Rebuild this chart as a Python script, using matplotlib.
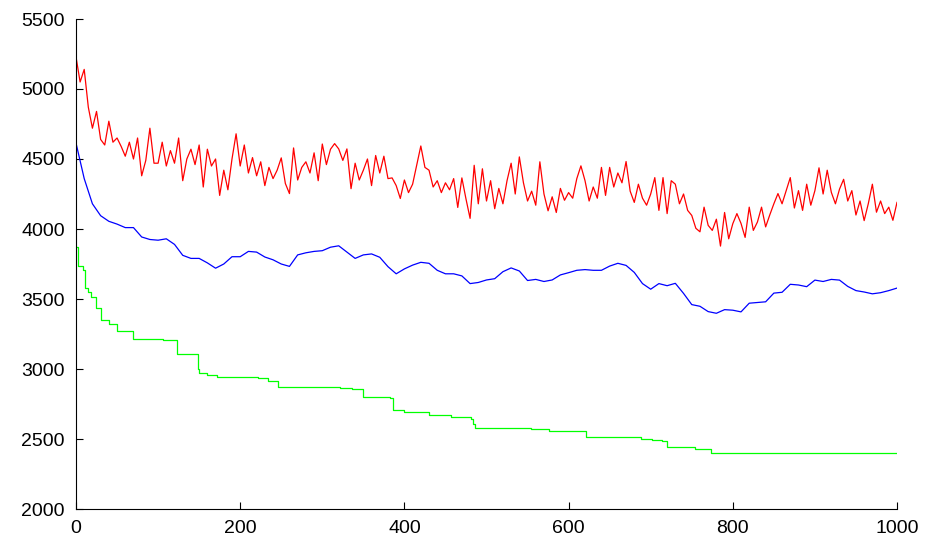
import numpy as np
import matplotlib
matplotlib.use('Agg')
import matplotlib.pyplot as plt

# red: current cost, sampled every 5 iterations
red = [5230, 5050, 5140, 4870, 4720, 4840, 4640, 4600, 4770, 4620,
       4650, 4590, 4520, 4620, 4500, 4650, 4380, 4490, 4720, 4470,
       4470, 4620, 4450, 4560, 4470, 4650, 4345, 4500, 4570, 4460,
       4600, 4300, 4570, 4450, 4500, 4240, 4420, 4280, 4500, 4680,
       4450, 4600, 4400, 4510, 4380, 4480, 4310, 4440, 4360, 4420,
       4508, 4325, 4253, 4579, 4350, 4440, 4480, 4400, 4544, 4345,
       4607, 4460, 4570, 4610, 4572, 4490, 4572, 4288, 4470, 4350,
       4420, 4500, 4310, 4525, 4400, 4520, 4360, 4365, 4310, 4218,
       4350, 4260, 4320, 4455, 4593, 4440, 4420, 4300, 4345, 4260,
       4330, 4280, 4360, 4154, 4365, 4215, 4076, 4455, 4180, 4430,
       4200, 4345, 4145, 4290, 4180, 4345, 4470, 4250, 4515, 4330,
       4200, 4270, 4170, 4480, 4250, 4130, 4230, 4118, 4290, 4205,
       4260, 4220, 4360, 4451, 4345, 4200, 4300, 4220, 4440, 4240,
       4440, 4300, 4400, 4330, 4482, 4270, 4190, 4320, 4220, 4170,
       4250, 4367, 4133, 4367, 4110, 4345, 4320, 4180, 4250, 4133,
       4097, 4005, 3980, 4156, 4026, 3990, 4070, 3878, 4118, 3930,
       4038, 4110, 4040, 3940, 4156, 3990, 4050, 4156, 4015, 4100,
       4180, 4253, 4180, 4274, 4367, 4150, 4274, 4133, 4320, 4170,
       4274, 4437, 4250, 4420, 4262, 4180, 4285, 4355, 4200, 4274,
       4100, 4200, 4060, 4180, 4320, 4120, 4200, 4110, 4156, 4062,
       4190]

# blue: running average, sampled every 10 iterations
blue = [4614, 4360, 4180, 4095, 4055, 4035, 4010, 4010, 3943, 3925,
        3920, 3930, 3890, 3812, 3790, 3790, 3758, 3720, 3750, 3802,
        3802, 3840, 3835, 3800, 3780, 3750, 3733, 3815, 3830, 3840,
        3845, 3870, 3880, 3835, 3790, 3815, 3822, 3798, 3731, 3680,
        3715, 3742, 3762, 3755, 3705, 3680, 3680, 3665, 3610, 3618,
        3636, 3645, 3695, 3722, 3700, 3632, 3640, 3625, 3636, 3672,
        3688, 3705, 3710, 3705, 3705, 3735, 3755, 3740, 3690, 3610,
        3570, 3610, 3595, 3612, 3540, 3460, 3448, 3410, 3398, 3424,
        3420, 3408, 3470, 3475, 3480, 3542, 3548, 3605, 3600, 3588,
        3635, 3625, 3640, 3635, 3590, 3560, 3550, 3537, 3545, 3560,
        3578]

# green: best so far, iteration where it changes and new value
green_it = [0, 2, 9, 11, 15, 18, 24, 31, 40, 50, 70, 106, 123, 148, 150,
            160, 172, 222, 234, 246, 321, 336, 350, 382, 386, 400, 430,
            457, 481, 484, 486, 554, 576, 604, 621, 688, 702, 714, 720,
            754, 773, 1000]
green = [3870, 3735, 3707, 3580, 3550, 3517, 3436, 3353, 3320, 3270, 3216,
         3208, 3110, 3000, 2968, 2955, 2940, 2933, 2912, 2874, 2864, 2857,
         2798, 2790, 2704, 2692, 2673, 2657, 2645, 2609, 2581, 2574, 2560,
         2555, 2515, 2503, 2491, 2486, 2444, 2425, 2400, 2400]

x_red = np.linspace(0, 1000, len(red))
x_blue = np.linspace(0, 1000, len(blue))

plt.rcParams['font.family'] = ['Liberation Sans', 'DejaVu Sans']

fig = plt.figure(figsize=(9.28, 5.39), dpi=100)
ax = fig.add_axes([76/928, 30/539, 821/928, 490/539])

ax.plot(x_red, red, color='#ff0000', lw=0.9)
ax.plot(x_blue, blue, color='#0000ff', lw=0.9)
ax.plot(green_it, green, color='#00ff00', lw=0.9, drawstyle='steps-post')

ax.set_xlim(0, 1000)
ax.set_ylim(2000, 5500)
ax.set_xticks(range(0, 1001, 200))
ax.set_yticks(range(2000, 5501, 500))

for s in ['top', 'right']:
    ax.spines[s].set_visible(False)
for s in ['left', 'bottom']:
    ax.spines[s].set_linewidth(0.8)
ax.tick_params(direction='in', length=5, width=0.8, labelsize=14, pad=8)

fig.savefig('out.png', dpi=100)
